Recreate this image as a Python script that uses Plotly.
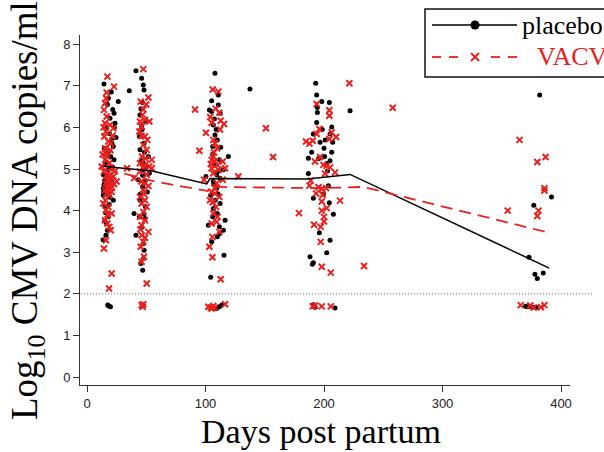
import plotly.graph_objects as go

# ---------------- data ----------------
# placebo: (days post partum, log10 CMV DNA copies/ml)
placebo_visit1 = [(14.3,7.04),(18.0,6.70),(26.4,6.62),(21.7,6.43),(22.8,6.34),(19.4,6.22),(23.6,6.10),
    (16.6,5.98),(24.5,5.76),(20.8,5.70),(22.2,5.54),(18.0,5.42),(20.0,5.30),(22.8,5.22),(15.2,5.10),
    (18.0,4.98),(13.8,4.86),(16.0,4.78),(14.3,4.62),(15.2,4.58),(16.6,4.59),(13.8,4.54),(18.0,4.49),
    (13.8,4.37),(19.4,4.32),(22.2,4.25),(15.2,4.09),(18.0,3.85),(16.6,3.69),(17.2,3.53),(16.0,3.41),
    (20.5,6.85),(17.2,6.55),(23.0,6.00),(19.0,5.85),(21.0,5.62),(17.0,5.15),(21.5,5.05),(14.8,4.72),
    (15.8,4.66),(16.4,4.52),(14.0,4.45),(17.6,4.40),(20.6,4.70),(15.0,3.75),(13.6,3.30),(15.6,3.95),
    (18.8,4.15),(14.6,5.50),(17.5,1.73),(18.4,1.71),(19.8,1.69)]
placebo_visit2 = [(41.3,7.36),(46.1,7.18),(35.7,6.88),(47.5,7.02),(48.1,6.90),(44.7,6.30),(46.1,6.02),
    (44.2,5.78),(48.1,5.62),(44.7,5.46),(51.8,5.30),(47.5,5.14),(47.0,4.98),(52.6,4.90),(43.3,4.74),
    (48.9,4.70),(47.0,4.58),(50.9,4.45),(44.7,4.25),(39.7,3.93),(48.1,3.92),(44.2,3.85),(48.9,3.81),
    (41.3,3.41),(47.5,3.21),(45.3,2.73),(47.0,2.57),(46.8,6.60),(45.5,6.45),(49.5,6.15),(46.5,5.95),
    (48.5,5.40),(45.9,5.20),(49.8,5.05),(46.9,4.85),(45.0,4.40),(49.2,4.10),(46.3,3.60),(48.2,3.05),
    (47.6,2.85)]
placebo_visit3 = [(108.0,7.30),(110.8,6.78),(105.2,6.64),(110.8,6.54),(103.3,6.42),(105.2,6.38),
    (112.3,6.34),(106.6,6.06),(108.0,5.82),(110.0,5.70),(106.1,5.54),(112.8,5.52),(119.3,5.30),
    (111.7,5.22),(115.1,4.98),(109.4,4.86),(100.4,4.82),(112.3,4.78),(106.6,4.70),(109.4,4.54),
    (104.4,4.37),(112.3,4.17),(106.6,4.05),(110.0,3.93),(102.4,3.65),(116.5,3.77),(111.7,3.61),
    (115.1,3.53),(110.0,3.37),(105.2,3.25),(115.6,2.93),(104.4,2.40),(107.5,6.20),(109.0,5.95),
    (105.8,5.35),(108.5,5.10),(111.0,4.95),(107.0,4.62),(110.5,4.40),(108.2,4.25),(106.0,3.85),
    (112.0,3.45),(137.5,6.92),(109.4,1.65),(111.7,1.69),(113.7,1.73)]
placebo_visit4 = [(193.0,7.06),(193.8,6.78),(198.1,6.62),(204.5,6.60),(194.4,6.48),(194.4,6.36),
    (222.0,6.40),(193.8,6.12),(206.5,6.01),(191.0,5.84),(205.1,5.84),(196.7,5.64),(207.3,5.64),
    (200.0,5.50),(189.6,5.40),(206.5,5.40),(186.8,5.26),(205.1,5.20),(202.3,5.13),(186.8,4.89),
    (203.7,4.60),(191.0,4.30),(199.5,4.40),(204.5,4.19),(207.9,3.91),(196.1,3.47),(205.1,3.29),
    (202.3,2.99),(188.2,2.89),(191.0,2.75),(190.2,2.71),(198.5,5.95),(201.0,5.70),(195.5,5.25),
    (200.5,5.30),(203.0,4.95),(192.4,1.68),(191.0,1.74),(209.3,1.66)]
placebo_visit5 = [(382,6.78),(377,4.13),(392,4.33),(373,2.88),(378,2.47),(380,2.37),(385,2.50),
    (370,1.70),(372,1.69),(376,1.68),(379,1.68)]

# VACV
vacv_visit1 = [(17.2,7.22),(22.8,6.98),(16.6,6.84),(15.2,6.58),(14.3,6.42),(16.6,6.26),(15.2,6.10),
    (19.4,6.06),(22.2,5.98),(16.0,5.90),(14.6,5.78),(18.0,5.66),(20.0,5.62),(15.2,5.50),(16.0,5.38),
    (17.2,5.30),(15.2,5.22),(18.8,5.14),(12.4,5.06),(20.8,5.02),(14.3,4.94),(16.6,4.86),(22.2,4.82),
    (18.0,4.74),(20.0,4.70),(16.0,4.66),(18.0,4.62),(19.4,4.58),(17.2,4.54),(15.2,4.49),(25.0,4.70),
    (22.8,4.64),(20.8,4.45),(16.6,4.41),(18.8,4.37),(13.8,4.17),(18.0,4.09),(16.0,4.01),(20.8,3.93),
    (15.2,3.77),(17.2,3.69),(18.8,3.61),(20.0,3.53),(16.0,3.29),(14.3,3.09),(20.8,2.49),(18.6,2.13),
    (18.5,4.60),(17.8,4.52),(19.0,4.48),(16.8,4.72),(21.0,4.55),(14.0,6.00),(16.2,6.70),(13.2,5.35),
    (19.8,5.45),(21.6,5.80),(15.6,4.25),(17.4,3.90),(19.0,4.85),(23.5,4.95)]
vacv_visit2 = [(47.5,7.40),(51.8,6.72),(45.3,6.62),(47.5,6.43),(48.9,6.18),(44.7,6.14),(52.6,6.14),
    (46.1,6.02),(44.2,5.90),(48.9,5.78),(50.9,5.70),(47.5,5.58),(50.4,5.46),(54.6,5.22),(44.7,5.14),
    (52.6,5.06),(47.5,5.02),(54.6,5.02),(44.7,4.94),(39.7,4.78),(50.4,4.86),(48.9,4.66),(51.8,4.59),
    (47.5,4.49),(44.7,4.33),(48.9,4.25),(46.1,4.17),(50.4,4.09),(47.5,3.97),(44.7,3.85),(48.9,3.77),
    (46.1,3.65),(51.8,3.49),(46.1,3.41),(47.5,3.25),(45.3,3.13),(48.1,2.89),(46.1,2.77),(50.4,2.25),
    (46.5,5.30),(49.5,5.25),(45.8,4.70),(48.0,4.40),(45.0,3.55),(49.0,3.35),(47.0,6.30),(50.0,6.55),
    (46.0,5.80),(48.5,5.10),(33.8,5.02),(46.1,1.73),(47.0,1.69),(47.5,1.75)]
vacv_visit3 = [(106.1,6.91),(110.8,6.86),(91.2,6.43),(111.7,6.35),(112.8,6.16),(115.6,6.08),(105.2,6.11),
    (112.3,5.95),(100.4,5.87),(106.6,5.70),(108.0,5.62),(94.8,5.44),(106.6,5.30),(105.2,5.22),
    (108.0,5.18),(114.5,5.18),(110.0,5.10),(116.5,5.02),(105.2,5.02),(106.6,4.90),(98.8,4.74),
    (114.5,4.74),(109.4,4.66),(105.2,4.45),(108.0,4.41),(111.7,4.33),(103.8,4.25),(108.9,4.09),
    (106.6,3.93),(109.4,3.73),(105.2,3.69),(111.7,3.49),(105.8,3.37),(103.3,3.13),(105.8,2.88),
    (112.8,2.35),(127.7,4.82),(107.2,5.40),(109.8,5.50),(104.5,5.12),(111.0,4.98),(107.8,4.55),
    (106.0,4.20),(110.2,3.85),(104.0,6.25),(108.5,6.45),(151.0,5.98),(157.0,5.29),
    (102.4,1.69),(104.4,1.67),(106.6,1.71),(108.0,1.67),(105.2,1.65),(116.5,1.75)]
vacv_visit4 = [(221.4,7.06),(193.8,6.56),(204.5,6.41),(204.5,6.28),(196.1,5.96),(193.8,5.84),(206.5,5.88),
    (184.8,5.66),(190.5,5.68),(187.7,5.61),(210.2,5.77),(204.5,5.72),(196.7,5.29),(192.4,5.18),
    (199.5,5.10),(202.3,5.08),(205.1,5.04),(209.3,4.92),(200.9,4.89),(188.8,4.72),(187.7,4.60),
    (195.3,4.56),(198.1,4.52),(201.7,4.54),(193.3,4.41),(198.9,4.38),(213.5,4.24),(198.1,4.22),
    (202.3,4.06),(198.1,4.00),(178.9,3.94),(200.0,3.85),(200.0,3.74),(191.6,3.66),(197.2,3.61),
    (197.2,3.25),(198.1,2.65),(205.7,2.51),(233.8,2.67),(258.0,6.47),
    (190.5,1.70),(192.4,1.72),(198.1,1.70),(205.7,1.70)]
vacv_visit5 = [(355,4.00),(365,5.70),(380,5.17),(387,5.29),(386,4.54),(386,4.48),(381,4.00),(380,3.87),
    (366,1.73),(374,1.72),(377,1.67),(383,1.68),(386,1.73)]

# group mean lines
placebo_line_days = [15, 55, 101, 103.8, 186, 222, 390]
placebo_line_vals = [5.06, 4.95, 4.64, 4.77, 4.76, 4.87, 2.62]
vacv_line_days = [16, 30, 59, 102, 104, 199, 233, 387]
vacv_line_vals = [5.00, 4.90, 4.69, 4.47, 4.57, 4.54, 4.57, 3.49]

detection_limit = 2
x_ticks = [0, 100, 200, 300, 400]
y_ticks = [0, 1, 2, 3, 4, 5, 6, 7, 8]
legend_labels = ["placebo", "VACV"]
x_title = "Days post partum"
y_title = "Log<sub>10</sub> CMV DNA copies/ml"

# ---------------- figure ----------------
BLACK = "#000000"
RED = "#e8201e"

placebo_all = placebo_visit1 + placebo_visit2 + placebo_visit3 + placebo_visit4 + placebo_visit5
vacv_all = vacv_visit1 + vacv_visit2 + vacv_visit3 + vacv_visit4 + vacv_visit5
px_, py_ = zip(*placebo_all)
vx_, vy_ = zip(*vacv_all)

fig = go.Figure()
fig.add_trace(go.Scatter(x=px_, y=py_, mode="markers", name="placebo points",
                         marker=dict(symbol="circle", size=5, color=BLACK, line=dict(width=0)),
                         showlegend=False))
fig.add_trace(go.Scatter(x=vx_, y=vy_, mode="markers", name="VACV points",
                         marker=dict(symbol="x-thin", size=6, color=RED, line=dict(width=2, color=RED)),
                         showlegend=False))
fig.add_trace(go.Scatter(x=placebo_line_days, y=placebo_line_vals, mode="lines", name=legend_labels[0],
                         line=dict(color=BLACK, width=1.5), showlegend=False))
fig.add_trace(go.Scatter(x=vacv_line_days, y=vacv_line_vals, mode="lines", name=legend_labels[1],
                         line=dict(color=RED, width=1.8, dash="12px,7px"), showlegend=False))

# plot area in pixels: left 80, right 570, top 35, bottom 385
L, R, T, B = 80, 570, 35, 385
def pxx(p):
    return (p - L) / (R - L)
def pxy(p):
    return (B - p) / (B - T)

shapes = []
# detection limit dotted line
shapes.append(dict(type="line", xref="paper", yref="y", x0=pxx(81), x1=pxx(592),
                   y0=detection_limit, y1=detection_limit,
                   line=dict(color="#666666", width=1, dash="1px,2px")))
# legend box
shapes.append(dict(type="rect", xref="paper", yref="paper", x0=pxx(425), x1=pxx(640),
                   y0=pxy(77), y1=pxy(9), line=dict(color="#111111", width=1.5), fillcolor="white"))
# placebo legend sample
shapes.append(dict(type="line", xref="paper", yref="paper", x0=pxx(432), x1=pxx(517),
                   y0=pxy(25), y1=pxy(25), line=dict(color=BLACK, width=1.5)))
shapes.append(dict(type="circle", xref="paper", yref="paper", x0=pxx(470.5), x1=pxx(479.5),
                   y0=pxy(29.5), y1=pxy(20.5), fillcolor=BLACK, line=dict(color=BLACK, width=0)))
# VACV legend sample
for a, b in [(432, 441), (449, 458), (491, 500), (508, 517)]:
    shapes.append(dict(type="line", xref="paper", yref="paper", x0=pxx(a), x1=pxx(b),
                       y0=pxy(57), y1=pxy(57), line=dict(color=RED, width=1.8)))
shapes.append(dict(type="line", xref="paper", yref="paper", x0=pxx(471), x1=pxx(479),
                   y0=pxy(53), y1=pxy(61), line=dict(color=RED, width=2)))
shapes.append(dict(type="line", xref="paper", yref="paper", x0=pxx(471), x1=pxx(479),
                   y0=pxy(61), y1=pxy(53), line=dict(color=RED, width=2)))

serif = "Liberation Serif, Times New Roman, serif"
annotations = [
    dict(text=legend_labels[0], xref="paper", yref="paper", x=pxx(520), y=pxy(25),
         xanchor="left", yanchor="middle", showarrow=False,
         font=dict(family=serif, size=26, color=BLACK)),
    dict(text=legend_labels[1], xref="paper", yref="paper", x=pxx(535), y=pxy(57),
         xanchor="left", yanchor="middle", showarrow=False,
         font=dict(family=serif, size=26, color=RED)),
    # axis titles
    dict(text=x_title, xref="paper", yref="paper", x=pxx(321), y=pxy(431),
         xanchor="center", yanchor="middle", showarrow=False,
         font=dict(family=serif, size=34, color=BLACK)),
    dict(text=y_title, xref="paper", yref="paper", x=pxx(27), y=pxy(211), textangle=-90,
         xanchor="center", yanchor="middle", showarrow=False,
         font=dict(family=serif, size=37, color=BLACK)),
]

tickfont = dict(family="Liberation Sans, Arial, sans-serif", size=13, color="#222222")
fig.update_layout(
    width=604, height=452,
    margin=dict(l=L, r=604 - R, t=T, b=452 - B, autoexpand=False),
    paper_bgcolor="white", plot_bgcolor="white",
    showlegend=False, hovermode=False,
    shapes=shapes, annotations=annotations,
    xaxis=dict(range=[(L - 87) / 1.185, (R - 87) / 1.185], tickvals=x_ticks, automargin=False,
               showline=True, linecolor="#333333", linewidth=1, mirror=False,
               ticks="outside", ticklen=6, tickcolor="#333333", tickwidth=1,
               showgrid=False, zeroline=False, tickfont=tickfont),
    yaxis=dict(range=[-0.19, 8.22], tickvals=y_ticks, automargin=False,
               showline=True, linecolor="#333333", linewidth=1, mirror=False,
               ticks="outside", ticklen=6, tickcolor="#333333", tickwidth=1,
               showgrid=False, zeroline=False, tickfont=tickfont),
)

# remove the browser's default 8px body margin so the figure sits at the page origin
fig.write_html("out.html", config={"displayModeBar": False},
               post_script="document.body.style.margin='0';document.body.style.overflow='hidden';")
